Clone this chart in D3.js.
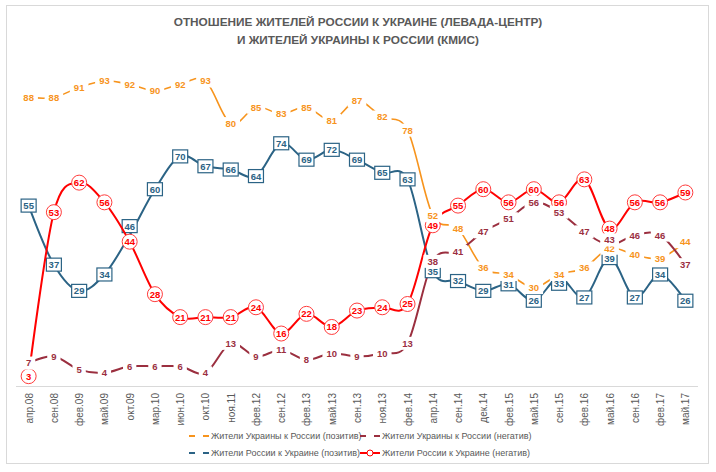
<!DOCTYPE html>
<html>
<head>
<meta charset="utf-8">
<script src="https://cdn.jsdelivr.net/npm/d3@7"></script>
<style>
  body { margin: 0; background: #fff; }
  svg { font-family: "Liberation Sans", Arial, sans-serif; }
</style>
</head>
<body>
<div id="chart"></div>
<script>
var months = ['апр.08', 'сен.08', 'фев.09', 'май.09', 'окт.09', 'мар.10', 'июн.10', 'окт.10', 'ноя.11',
  'фев.12', 'сен.12', 'фев.13', 'май.13', 'сен.13', 'ноя.13', 'фев.14', 'апр.14', 'сен.14', 'дек.14',
  'фев.15', 'май.15', 'сен.15', 'фев.16', 'май.16', 'сен.16', 'фев.17', 'май.17'];
var uaPos = [88, 88, 91, 93, 92, 90, 92, 93, 80, 85, 83, 85, 81, 87, 82, 78, 52, 48, 36, 34, 30, 34, 36, 42, 40, 39, 44];
var uaNeg = [7, 9, 5, 4, 6, 6, 6, 4, 13, 9, 11, 8, 10, 9, 10, 13, 38, 41, 47, 51, 56, 53, 47, 43, 46, 46, 37];
var ruPos = [55, 37, 29, 34, 46, 60, 70, 67, 66, 64, 74, 69, 72, 69, 65, 63, 35, 32, 29, 31, 26, 33, 27, 39, 27, 34, 26];
var ruNeg = [3, 53, 62, 56, 44, 28, 21, 21, 21, 24, 16, 22, 18, 23, 24, 25, 49, 55, 60, 56, 60, 56, 63, 48, 56, 56, 59];
var titleLines = ['ОТНОШЕНИЕ ЖИТЕЛЕЙ РОССИИ К УКРАИНЕ (ЛЕВАДА-ЦЕНТР)', 'И ЖИТЕЛЕЙ УКРАИНЫ К РОССИИ (КМИС)'];

// labels that were nudged by hand in the original (index -> pixel shift)
var labelNudge = { uaNeg: { 23: -5 }, ruPos: { 4: -9, 21: 6 } };

var series = [
  { key: 'uaPos', name: 'Жители  Украины к России (позитив)', values: uaPos, color: '#F7941D', marker: 'none', width: 1.6 },
  { key: 'uaNeg', name: 'Жители  Украины к России (негатив)', values: uaNeg, color: '#9B2F3F', marker: 'none', width: 2 },
  { key: 'ruPos', name: 'Жители  России к Украине (позитив)', values: ruPos, color: '#2B6385', marker: 'square', width: 2 },
  { key: 'ruNeg', name: 'Жители  России к Украине (негатив)', values: ruNeg, color: '#FF0000', marker: 'circle', width: 2 }
];

var width = 716, height = 472;
var svg = d3.select('#chart').append('svg')
  .attr('width', width)
  .attr('height', height);

svg.append('rect')
  .attr('x', 6.5).attr('y', 5.5)
  .attr('width', 702).attr('height', 458)
  .attr('fill', '#fff')
  .attr('stroke', '#d9d9d9');

svg.selectAll('.title')
  .data(titleLines)
  .enter().append('text')
  .attr('class', 'title')
  .attr('x', 358)
  .attr('y', function (d, i) { return 26 + i * 18; })
  .attr('text-anchor', 'middle')
  .attr('fill', '#595959')
  .style('font-weight', 'bold')
  .style('font-size', '11.8px')
  .text(function (d) { return d; });

var x = d3.scalePoint()
  .domain(months)
  .range([16, 698])
  .padding(0.5);
var y = d3.scaleLinear()
  .domain([0, 100])
  .range([386, 58]);

// x axis
var xAxis = svg.append('g')
  .attr('transform', 'translate(0,386)')
  .call(d3.axisBottom(x).tickSize(0).tickPadding(0));
xAxis.select('.domain')
  .attr('stroke', '#d9d9d9')
  .attr('d', 'M16,0.5H698');
xAxis.selectAll('text')
  .attr('transform', 'rotate(-90)')
  .attr('x', -7)
  .attr('y', 0)
  .attr('dy', '0.35em')
  .attr('text-anchor', 'end')
  .attr('fill', '#595959')
  .style('font-family', '"Liberation Sans", Arial, sans-serif')
  .style('font-size', '10px');

var line = d3.line()
  .x(function (d, i) { return x(months[i]); })
  .y(function (d) { return y(d); })
  .curve(d3.curveCardinal.tension(0));

function nudge(s, i) {
  return (labelNudge[s.key] && labelNudge[s.key][i]) || 0;
}

var plot = svg.append('g');

series.forEach(function (s) {
  plot.append('path')
    .datum(s.values)
    .attr('fill', 'none')
    .attr('stroke', s.color)
    .attr('stroke-width', s.width)
    .attr('d', line);
  if (s.marker === 'square') {
    plot.selectAll(null)
      .data(s.values)
      .enter().append('rect')
      .attr('x', function (d, i) { return x(months[i]) - 7.5; })
      .attr('y', function (d, i) { return y(d) + nudge(s, i) - 6.5; })
      .attr('width', 15)
      .attr('height', 13)
      .attr('fill', '#fff')
      .attr('stroke', s.color)
      .attr('stroke-width', 1.2);
  } else if (s.marker === 'circle') {
    plot.selectAll(null)
      .data(s.values)
      .enter().append('circle')
      .attr('cx', function (d, i) { return x(months[i]); })
      .attr('cy', function (d) { return y(d); })
      .attr('r', 7.5)
      .attr('fill', '#fff')
      .attr('stroke', '#FF3B3B')
      .attr('stroke-width', 1);
  }
});

// data labels on top
series.forEach(function (s) {
  var g = svg.append('g').selectAll(null)
    .data(s.values)
    .enter().append('g')
    .attr('transform', function (d, i) { return 'translate(' + x(months[i]) + ',' + (y(d) + nudge(s, i)) + ')'; });
  if (s.marker === 'none') {
    g.append('rect')
      .attr('fill', '#fff');
  }
  g.append('text')
    .attr('text-anchor', 'middle')
    .attr('dy', '0.36em')
    .attr('fill', s.color)
    .style('font-weight', 'bold')
    .style('font-size', '9.5px')
    .text(function (d) { return d; });
  if (s.marker === 'none') {
    g.each(function () {
      var el = d3.select(this);
      var w = el.select('text').node().getComputedTextLength();
      el.select('rect')
        .attr('x', -w / 2 - 4)
        .attr('y', -6.5)
        .attr('width', w + 8)
        .attr('height', 13);
    });
  }
});

// legend
var legendPos = [[189, 436], [360, 436], [189, 453], [360, 453]];
var legend = svg.selectAll('.legend')
  .data(series)
  .enter().append('g')
  .attr('class', 'legend')
  .attr('transform', function (d, i) { return 'translate(' + legendPos[i][0] + ',' + legendPos[i][1] + ')'; });
legend.append('line')
  .attr('x1', 0).attr('x2', 20)
  .attr('stroke', function (d) { return d.color; })
  .attr('stroke-width', 2)
  .attr('stroke-dasharray', function (d) { return d.marker === 'circle' ? null : '6,8,6'; });
legend.filter(function (d) { return d.marker === 'circle'; })
  .append('circle')
  .attr('cx', 10).attr('r', 3)
  .attr('fill', '#fff')
  .attr('stroke', function (d) { return d.color; });
legend.append('text')
  .attr('x', 22)
  .attr('dy', '0.35em')
  .attr('fill', '#595959')
  .style('font-size', '9px')
  .text(function (d) { return d.name; });
</script>
</body>
</html>
